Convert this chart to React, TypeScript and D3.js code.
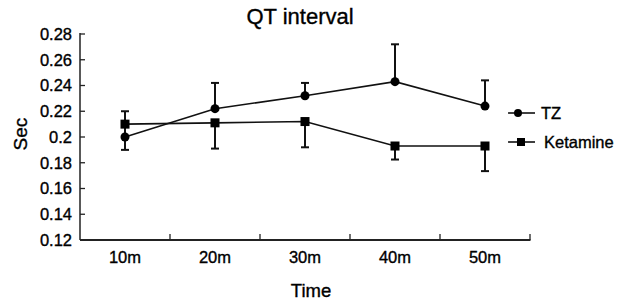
import React from 'react';
import * as d3 from 'd3';

const CATEGORIES = ['10m', '20m', '30m', '40m', '50m'];
const TZ = [0.2, 0.222, 0.232, 0.243, 0.224];
const TZ_ERR_UP = [0.02, 0.02, 0.01, 0.029, 0.02];
const KETAMINE = [0.21, 0.211, 0.212, 0.193, 0.193];
const KETAMINE_ERR_DOWN = [0.02, 0.02, 0.02, 0.0105, 0.0195];
const Y_TICKS = [0.12, 0.14, 0.16, 0.18, 0.2, 0.22, 0.24, 0.26, 0.28];

const W = 629;
const H = 303;
const FONT = 'Liberation Sans, Arial, sans-serif';

export default function App() {
  const x = d3.scaleBand<string>().domain(CATEGORIES).range([80, 530]).paddingInner(0);
  const y = d3.scaleLinear().domain([0.12, 0.28]).range([240, 34]);
  const cx = (c: string) => (x(c) ?? 0) + x.bandwidth() / 2;

  const line = d3
    .line<number>()
    .x((_, i) => cx(CATEGORIES[i]))
    .y(d => y(d));

  // boundary ticks between categories + at the end of the axis
  const xTickPos = CATEGORIES.slice(1).map(c => x(c) ?? 0).concat([x.range()[1]]);
  const cap = 4;

  return (
    <svg
      width={W}
      height={H}
      viewBox={`0 0 ${W} ${H}`}
      style={{ position: 'absolute', left: 0, top: 0, background: '#fff' }}
      fontFamily={FONT}
    >
      <g fill="#000" stroke="#000" strokeWidth={0.35}>
        <text x={300} y={24} textAnchor="middle" fontSize={22}>
          QT interval
        </text>
        {Y_TICKS.map(t => (
          <text key={t} x={72} y={y(t)} dy="0.35em" textAnchor="end" fontSize={16.5}>
            {d3.format('~g')(t)}
          </text>
        ))}
        {CATEGORIES.map(c => (
          <text key={c} x={cx(c)} y={263} textAnchor="middle" fontSize={16.5}>
            {c}
          </text>
        ))}
        <text x={311} y={297} textAnchor="middle" fontSize={18.5}>
          Time
        </text>
        <text transform={`translate(27,134) rotate(-90)`} textAnchor="middle" fontSize={19}>
          Sec
        </text>
        <text x={541} y={113} dy="0.35em" fontSize={16.5}>
          TZ
        </text>
        <text x={544} y={142} dy="0.35em" fontSize={16.5}>
          Ketamine
        </text>
      </g>

      {/* y axis */}
      <line x1={80} x2={80} y1={y(0.28) - 1} y2={y(0.12)} stroke="#222" strokeWidth={1.5} />
      {Y_TICKS.map(t => (
        <line key={t} x1={80} x2={85} y1={y(t)} y2={y(t)} stroke="#222" strokeWidth={1.3} />
      ))}

      {/* x axis */}
      <line x1={80} x2={530.5} y1={240} y2={240} stroke="#222" strokeWidth={2} />
      {xTickPos.map((p, i) => (
        <line key={i} x1={p} x2={p} y1={240} y2={234} stroke="#222" strokeWidth={1.3} />
      ))}

      {/* error bars */}
      {CATEGORIES.map((c, i) => (
        <g key={c} stroke="#111" strokeWidth={2}>
          <line x1={cx(c)} x2={cx(c)} y1={y(TZ[i])} y2={y(TZ[i] + TZ_ERR_UP[i])} />
          <line x1={cx(c) - cap} x2={cx(c) + cap} y1={y(TZ[i] + TZ_ERR_UP[i])} y2={y(TZ[i] + TZ_ERR_UP[i])} />
          <line x1={cx(c)} x2={cx(c)} y1={y(KETAMINE[i])} y2={y(KETAMINE[i] - KETAMINE_ERR_DOWN[i])} />
          <line
            x1={cx(c) - cap}
            x2={cx(c) + cap}
            y1={y(KETAMINE[i] - KETAMINE_ERR_DOWN[i])}
            y2={y(KETAMINE[i] - KETAMINE_ERR_DOWN[i])}
          />
        </g>
      ))}

      {/* lines */}
      <path d={line(TZ) ?? ''} fill="none" stroke="#111" strokeWidth={1.6} />
      <path d={line(KETAMINE) ?? ''} fill="none" stroke="#111" strokeWidth={1.6} />

      {TZ.map((v, i) => (
        <circle key={i} cx={cx(CATEGORIES[i])} cy={y(v)} r={4.5} fill="#000" />
      ))}
      {KETAMINE.map((v, i) => (
        <rect key={i} x={cx(CATEGORIES[i]) - 4.5} y={y(v) - 4.5} width={9} height={9} fill="#000" />
      ))}

      {/* legend */}
      <line x1={508} x2={535} y1={113} y2={113} stroke="#111" strokeWidth={1.6} />
      <circle cx={518} cy={113} r={4} fill="#000" />
      <line x1={508} x2={535} y1={142} y2={142} stroke="#111" strokeWidth={1.6} />
      <rect x={517} y={138} width={8} height={8} fill="#000" />
    </svg>
  );
}
